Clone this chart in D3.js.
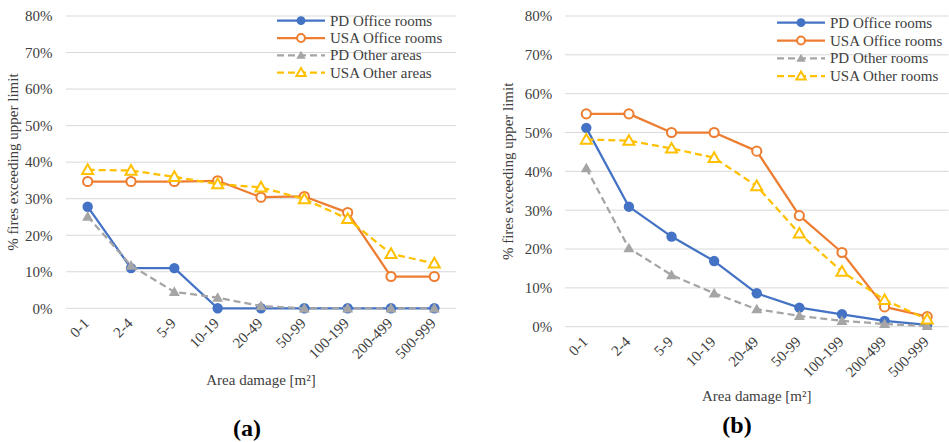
<!DOCTYPE html>
<html><head><meta charset="utf-8">
<script src="https://cdn.jsdelivr.net/npm/d3@7"></script>
<style>
body{margin:0;background:#fff;}
svg{display:block;}
svg text{font-family:"Liberation Serif","Times New Roman",serif !important;}
</style></head>
<body><svg id="c" width="949" height="442"></svg>
<script>
const categories = ["0-1","2-4","5-9","10-19","20-49","50-99","100-199","200-499","500-999"];
const yTicks = [0,0.1,0.2,0.3,0.4,0.5,0.6,0.7,0.8];

const namesA = ["PD Office rooms","USA Office rooms","PD Other areas","USA Other areas"];
const pdOfficeA  = [0.278,0.11,0.11,0,0,0,0,0,0];
const usaOfficeA = [0.347,0.347,0.347,0.349,0.304,0.306,0.262,0.087,0.087];
const pdOtherA   = [0.251,0.117,0.045,0.029,0.006,0,0,0,0];
const usaOtherA  = [0.379,0.377,0.36,0.34,0.331,0.299,0.245,0.149,0.123];

const namesB = ["PD Office rooms","USA Office rooms","PD Other rooms","USA Other rooms"];
const pdOfficeB  = [0.512,0.309,0.232,0.169,0.086,0.049,0.032,0.015,0.005];
const usaOfficeB = [0.548,0.548,0.50,0.50,0.452,0.286,0.191,0.051,0.026];
const pdOtherB   = [0.408,0.202,0.133,0.086,0.045,0.028,0.015,0.007,0.002];
const usaOtherB  = [0.482,0.479,0.459,0.435,0.362,0.24,0.142,0.069,0.019];

const styles = [
  {color:"#4472C4", dash:null, marker:"dot"},
  {color:"#ED7D31", dash:null, marker:"ring"},
  {color:"#A5A5A5", dash:"7,4", marker:"tri"},
  {color:"#FFC000", dash:"7,4", marker:"hollowtri"}
];
const textColor = "#404040";
const svg = d3.select("#c");

function drawPanel(cfg){
  const g = svg.append("g");
  const x = d3.scalePoint().domain(categories).range(cfg.xr).padding(0.5);
  const y = d3.scaleLinear().domain([0,0.8]).range([cfg.y0, cfg.y80]);
  g.selectAll("line.grid").data(yTicks).join("line")
    .attr("x1",cfg.xr[0]).attr("x2",cfg.xr[1])
    .attr("y1",d=>y(d)).attr("y2",d=>y(d))
    .attr("stroke","#D9D9D9").attr("stroke-width",1);
  const ya = g.append("g").attr("transform",`translate(${cfg.xr[0]},0)`)
    .call(d3.axisLeft(y).tickValues(yTicks).tickFormat(d3.format(".0%")).tickSize(0).tickPadding(cfg.xr[0]-cfg.ylabEnd));
  ya.select(".domain").remove();
  ya.attr("font-family",null).attr("font-size",null);
  ya.selectAll("text").attr("font-size",15).attr("fill",textColor);
  const xa = g.append("g").attr("transform",`translate(0,${cfg.y0})`)
    .call(d3.axisBottom(x).tickSize(0).tickPadding(0));
  xa.select(".domain").remove();
  xa.attr("font-family",null).attr("font-size",null);
  xa.selectAll("text").attr("font-size",15).attr("fill",textColor)
    .attr("text-anchor","end").attr("dy",null).attr("y",0)
    .attr("transform","translate(2,16) rotate(-45)");
  g.append("text").attr("x",cfg.ylabX).attr("y",(cfg.y0+cfg.y80)/2)
    .attr("transform",`rotate(-90,${cfg.ylabX},${(cfg.y0+cfg.y80)/2})`)
    .attr("text-anchor","middle").attr("dominant-baseline","central")
    .attr("font-size",15).attr("fill",textColor).text("% fires exceeding upper limit");
  g.append("text").attr("x",(cfg.xr[0]+cfg.xr[1])/2).attr("y",cfg.xtitleY)
    .attr("text-anchor","middle").attr("font-size",15).attr("fill",textColor).text("Area damage [m²]");
  g.append("text").attr("x",cfg.capX).attr("y",cfg.capY)
    .attr("text-anchor","middle").attr("font-size",24).attr("font-weight","bold").attr("fill","#000").text(cfg.cap);
  const line = d3.line().x((d,i)=>x(categories[i])).y(d=>y(d));
  cfg.series.forEach((vals,si)=>{
    const st = styles[si];
    g.append("path").attr("d",line(vals)).attr("fill","none")
      .attr("stroke",st.color).attr("stroke-width",2.25)
      .attr("stroke-dasharray",st.dash).attr("stroke-linejoin","round");
    vals.forEach((v,i)=>drawMarker(g, st, x(categories[i]), y(v), 1));
  });
  const lg = g.append("g");
  cfg.names.forEach((n,i)=>{
    const st = styles[i];
    const ly = cfg.legY + i*cfg.legStep;
    lg.append("line").attr("x1",cfg.legX).attr("x2",cfg.legX+48).attr("y1",ly).attr("y2",ly)
      .attr("stroke",st.color).attr("stroke-width",2.25).attr("stroke-dasharray",st.dash);
    drawMarker(lg, st, cfg.legX+24, ly, 0.85);
    lg.append("text").attr("x",cfg.legX+53).attr("y",ly).attr("dominant-baseline","central")
      .attr("font-size",15).attr("fill",textColor).text(n);
  });
}

function drawMarker(g, st, cx, cy, k){
  if(st.marker==="dot"){
    g.append("circle").attr("cx",cx).attr("cy",cy).attr("r",5.2*k).attr("fill",st.color);
  } else if(st.marker==="ring"){
    g.append("circle").attr("cx",cx).attr("cy",cy).attr("r",4.6*k).attr("fill","#fff")
      .attr("stroke",st.color).attr("stroke-width",2);
  } else {
    const s = 5.5*k;
    const pts = [[cx,cy-s],[cx+s,cy+s*0.75],[cx-s,cy+s*0.75]];
    g.append("path").attr("d","M"+pts.map(p=>p.join(",")).join("L")+"Z")
      .attr("fill", st.marker==="tri"? st.color : "#fff")
      .attr("stroke",st.color).attr("stroke-width", st.marker==="tri"?0:2)
      .attr("stroke-linejoin","miter");
  }
}

drawPanel({xr:[66,456], y0:308.3, y80:16, ylabEnd:52.5, ylabX:13, xtitleY:385, capX:247, capY:436, cap:"(a)",
  legX:277, legY:20.7, legStep:17.3, names:namesA, series:[pdOfficeA,usaOfficeA,pdOtherA,usaOtherA]});
drawPanel({xr:[565,948.5], y0:326.7, y80:16, ylabEnd:552.3, ylabX:508, xtitleY:401, capX:737, capY:433, cap:"(b)",
  legX:777, legY:22.7, legStep:17.8, names:namesB, series:[pdOfficeB,usaOfficeB,pdOtherB,usaOtherB]});
</script></body></html>
